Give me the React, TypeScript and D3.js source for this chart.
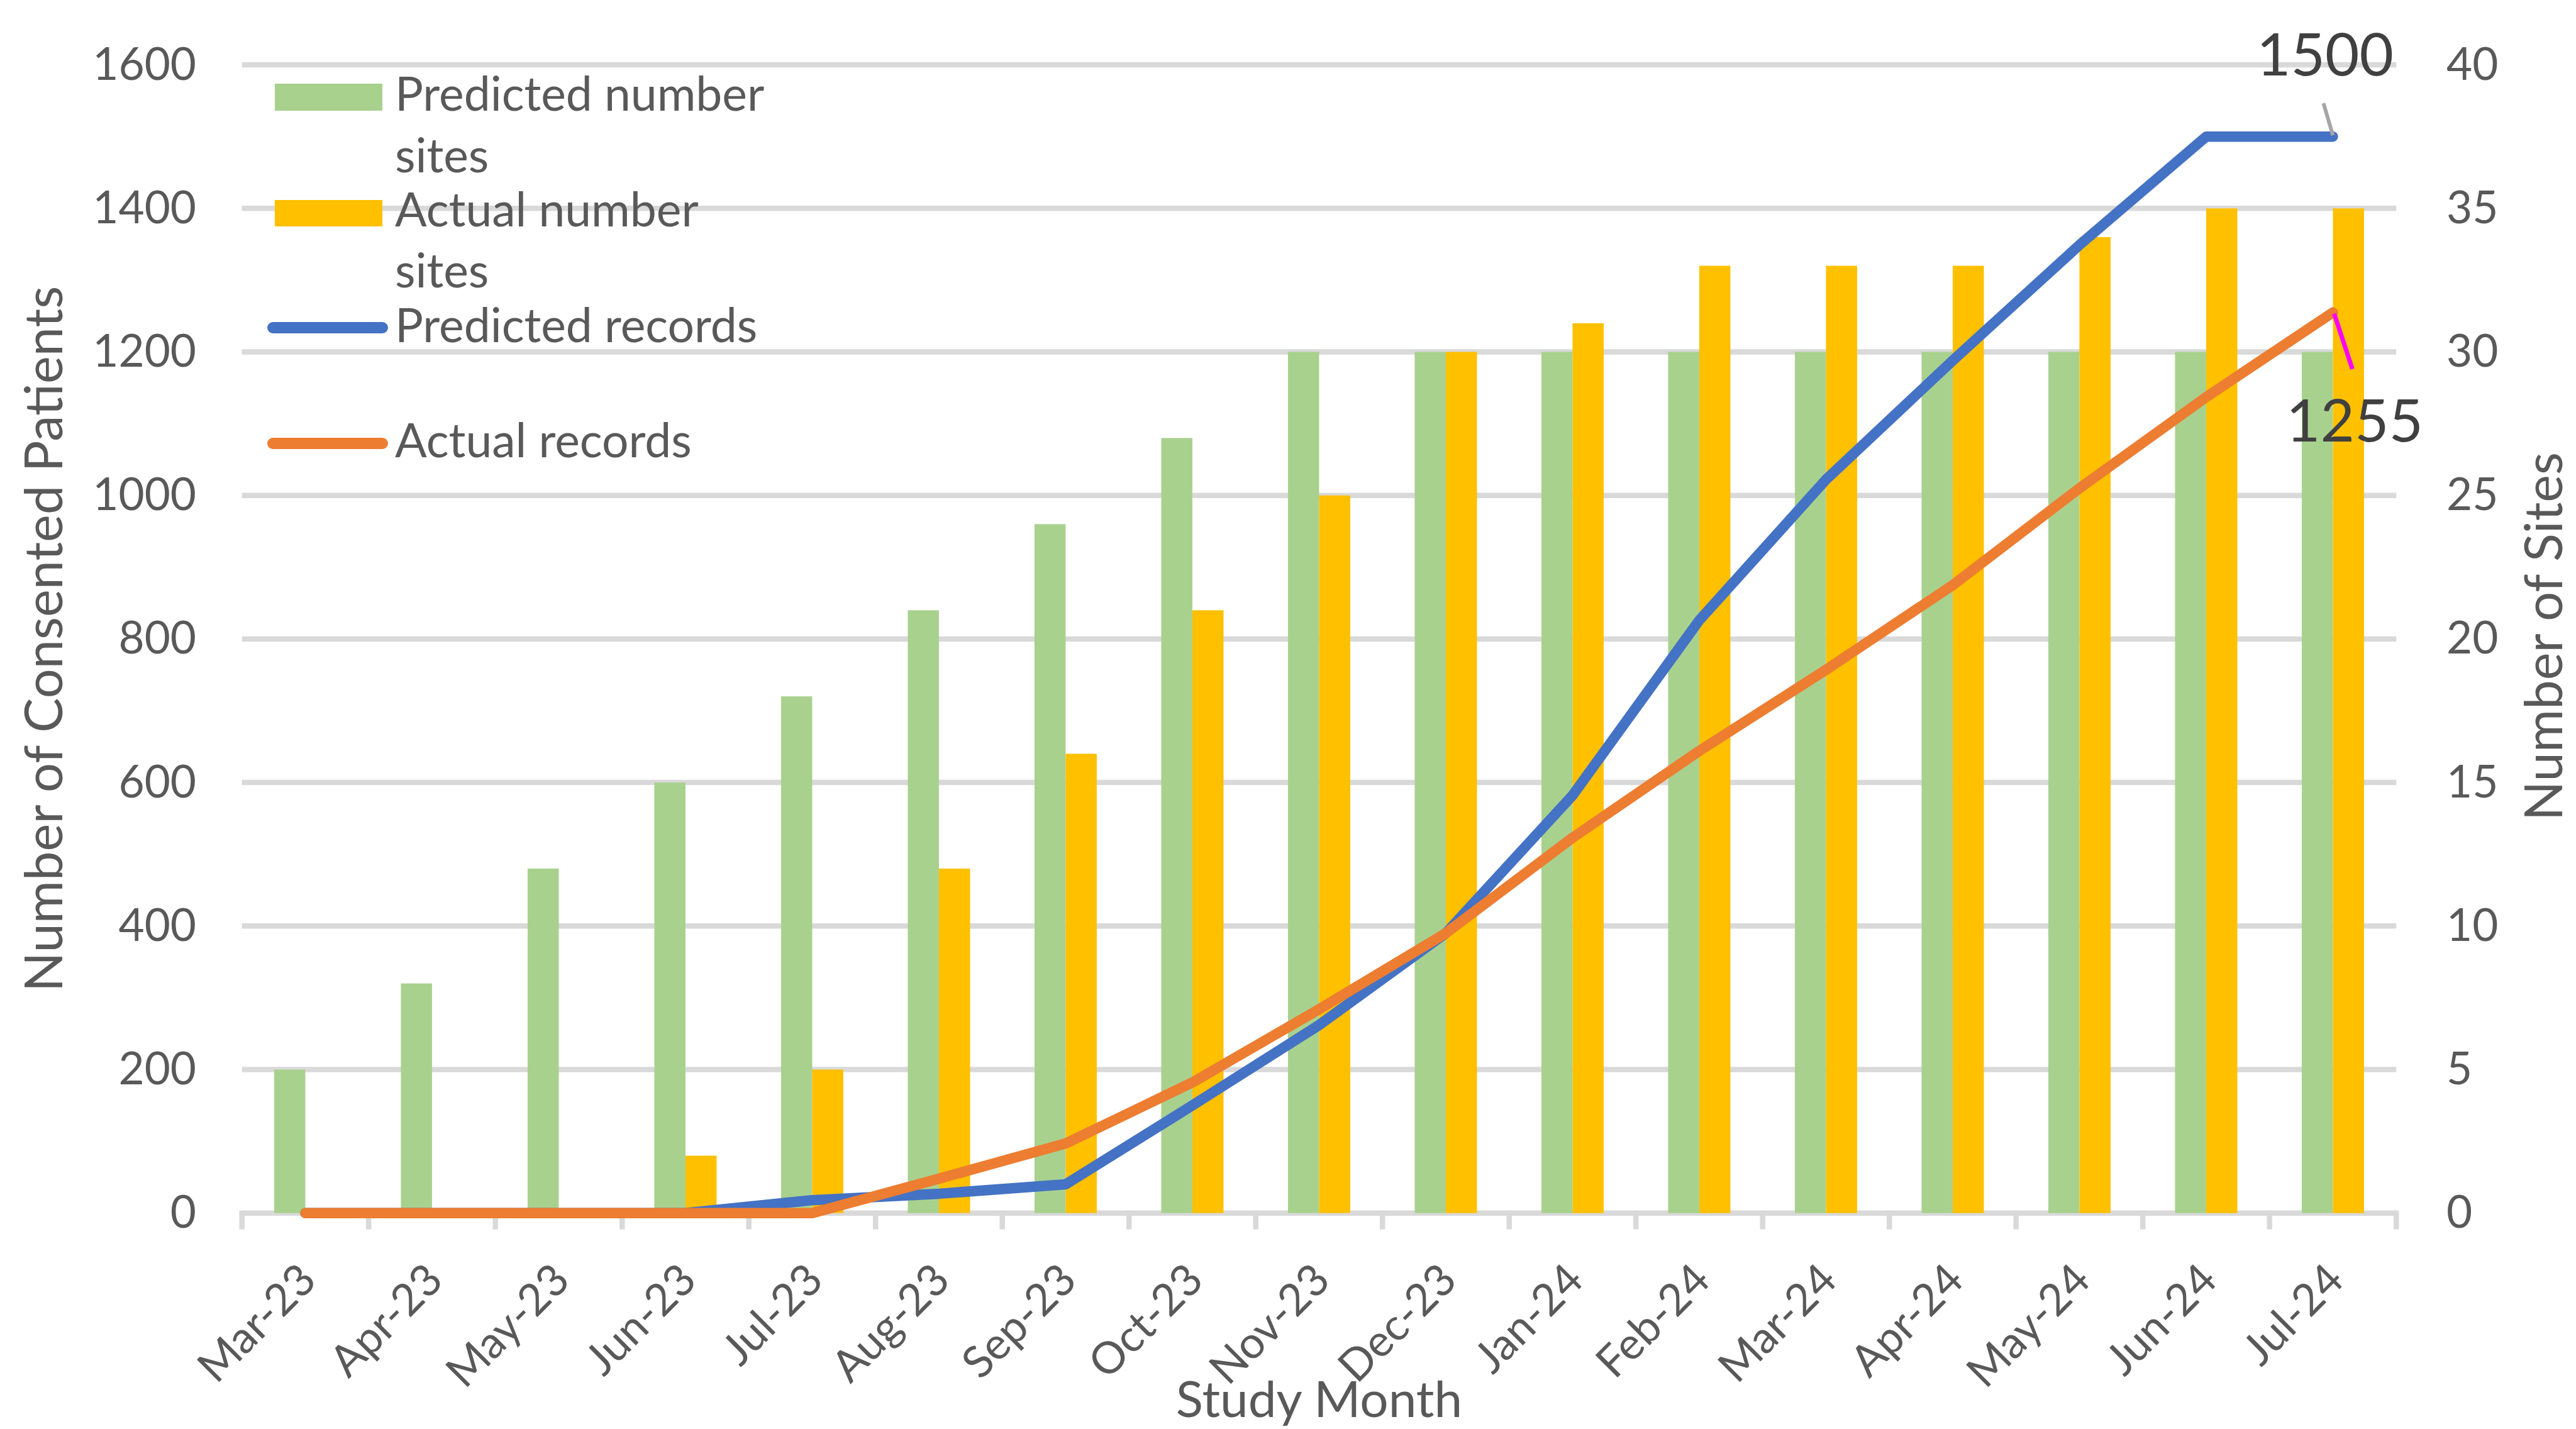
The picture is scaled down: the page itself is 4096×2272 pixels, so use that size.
import React, { useEffect, useRef } from "react";
import * as d3 from "d3";

// study months on the category axis
const months = [
  "Mar-23", "Apr-23", "May-23", "Jun-23", "Jul-23", "Aug-23", "Sep-23", "Oct-23", "Nov-23",
  "Dec-23", "Jan-24", "Feb-24", "Mar-24", "Apr-24", "May-24", "Jun-24", "Jul-24",
];

// number of sites (right axis)
const predictedSites = [5, 8, 12, 15, 18, 21, 24, 27, 30, 30, 30, 30, 30, 30, 30, 30, 30];
const actualSites = [0, 0, 0, 2, 5, 12, 16, 21, 25, 30, 31, 33, 33, 33, 34, 35, 35];

// consented patients (left axis)
const predictedRecords = [0, 0, 0, 0, 18, 27, 40, 150, 262, 390, 582, 826, 1022, 1188, 1349, 1500, 1500];
const actualRecords = [0, 0, 0, 0, 0, 48, 97, 182, 284, 390, 523, 644, 757, 875, 1010, 1137, 1255];

const leftTicks = [0, 200, 400, 600, 800, 1000, 1200, 1400, 1600];
const rightTicks = [0, 5, 10, 15, 20, 25, 30, 35, 40];

const FONT = "Lato, 'Open Sans', sans-serif";
const GREEN = "#A9D18E";
const YELLOW = "#FFC000";
const BLUE = "#4472C4";
const ORANGE = "#ED7D31";
const GRID = "#D9D9D9";
const TEXT = "#595959";

const App = () => {
  const ref = useRef(null);

  useEffect(() => {
    const width = 4096;
    const height = 2272;
    const svg = d3.select(ref.current);
    svg.selectAll("*").remove();
    svg.attr("width", width).attr("height", height);

    const left = 384.7;
    const right = 3810.2;
    const top = 103.1;
    const bottom = 1928.7;

    const x = d3.scaleBand().domain(months).range([left, right]).padding(0);
    const bw = x.bandwidth();
    const xs = d3
      .scaleBand()
      .domain(["pred", "act"])
      .range([bw * (0.5 - 0.2457), bw * (0.5 + 0.2457)]);
    const yL = d3.scaleLinear().domain([0, 1600]).range([bottom, top]);
    const yR = d3.scaleLinear().domain([0, 40]).range([bottom, top]);
    const cx = (m) => x(m) + bw / 2;

    // gridlines
    svg
      .append("g")
      .selectAll("line")
      .data(leftTicks)
      .enter()
      .append("line")
      .attr("x1", left)
      .attr("x2", right)
      .attr("y1", (d) => yL(d))
      .attr("y2", (d) => yL(d))
      .attr("stroke", GRID)
      .attr("stroke-width", 8.5);

    // tick marks between categories
    const edges = d3.range(months.length + 1).map((i) => left + i * bw);
    svg
      .append("g")
      .selectAll("line")
      .data(edges)
      .enter()
      .append("line")
      .attr("x1", (d) => d)
      .attr("x2", (d) => d)
      .attr("y1", bottom - 4)
      .attr("y2", bottom + 25.8)
      .attr("stroke", GRID)
      .attr("stroke-width", 8.5);

    // bars
    const bars = months.map((m, i) => ({ m, pred: predictedSites[i], act: actualSites[i] }));
    const bg = svg.append("g");
    bg.selectAll(".pred")
      .data(bars)
      .enter()
      .append("rect")
      .attr("x", (d) => x(d.m) + xs("pred"))
      .attr("y", (d) => yR(d.pred))
      .attr("width", xs.bandwidth())
      .attr("height", (d) => yR(0) - yR(d.pred))
      .attr("fill", GREEN);
    bg.selectAll(".act")
      .data(bars)
      .enter()
      .append("rect")
      .attr("x", (d) => x(d.m) + xs("act"))
      .attr("y", (d) => yR(d.act))
      .attr("width", xs.bandwidth())
      .attr("height", (d) => yR(0) - yR(d.act))
      .attr("fill", YELLOW);

    // lines
    const line = d3
      .line()
      .x((d) => cx(d.m))
      .y((d) => yL(d.v));
    const series = [
      { values: predictedRecords, color: BLUE },
      { values: actualRecords, color: ORANGE },
    ];
    series.forEach((s) => {
      svg
        .append("path")
        .datum(months.map((m, i) => ({ m, v: s.values[i] })))
        .attr("d", line)
        .attr("fill", "none")
        .attr("stroke", s.color)
        .attr("stroke-width", 16.5)
        .attr("stroke-linejoin", "round")
        .attr("stroke-linecap", "round");
    });

    // left axis labels
    svg
      .append("g")
      .selectAll("text")
      .data(leftTicks)
      .enter()
      .append("text")
      .attr("x", 312)
      .attr("y", (d) => yL(d) - 4)
      .attr("dominant-baseline", "central")
      .attr("text-anchor", "end")
      .attr("font-family", FONT)
      .attr("font-size", 71)
      .attr("fill", TEXT)
      .text((d) => d);

    // right axis labels
    svg
      .append("g")
      .selectAll("text")
      .data(rightTicks)
      .enter()
      .append("text")
      .attr("x", 3890)
      .attr("y", (d) => yR(d) - 4)
      .attr("dominant-baseline", "central")
      .attr("text-anchor", "start")
      .attr("font-family", FONT)
      .attr("font-size", 71)
      .attr("fill", TEXT)
      .text((d) => d);

    // category labels
    svg
      .append("g")
      .selectAll("text")
      .data(months)
      .enter()
      .append("text")
      .attr("transform", (d) => `translate(${cx(d) + 2},2020) rotate(-45)`)
      .attr("dominant-baseline", "central")
      .attr("text-anchor", "end")
      .attr("font-family", FONT)
      .attr("font-size", 70)
      .attr("fill", TEXT)
      .text((d) => d);

    // axis titles
    const title = (t, tx, ty, rot, fs) =>
      svg
        .append("text")
        .attr("transform", `translate(${tx},${ty}) rotate(${rot})`)
        .attr("text-anchor", "middle")
        .attr("font-family", FONT)
        .attr("font-size", fs)
        .attr("fill", TEXT)
        .text(t);
    title("Number of Consented Patients", 99, (top + bottom) / 2, -90, 83);
    title("Number of Sites", 4074, 1012, -90, 83);
    title("Study Month", (left + right) / 2, 2253, 0, 80);

    // legend
    const lg = svg.append("g").attr("font-family", FONT).attr("font-size", 75).attr("fill", TEXT);
    lg.append("rect").attr("x", 437).attr("y", 133).attr("width", 171).attr("height", 43).attr("fill", GREEN);
    lg.append("rect").attr("x", 437).attr("y", 318).attr("width", 171).attr("height", 42).attr("fill", YELLOW);
    lg.append("line").attr("x1", 434).attr("x2", 608).attr("y1", 521).attr("y2", 521)
      .attr("stroke", BLUE).attr("stroke-width", 18).attr("stroke-linecap", "round");
    lg.append("line").attr("x1", 434).attr("x2", 608).attr("y1", 705).attr("y2", 705)
      .attr("stroke", ORANGE).attr("stroke-width", 18).attr("stroke-linecap", "round");
    const legendText = [
      ["Predicted number", 176],
      ["sites", 274],
      ["Actual number", 360],
      ["sites", 457],
      ["Predicted records", 544],
      ["Actual records", 727],
    ];
    lg.selectAll("text")
      .data(legendText)
      .enter()
      .append("text")
      .attr("x", 628)
      .attr("y", (d) => d[1])
      .text((d) => d[0]);

    // data labels on the last point
    const last = months[months.length - 1];
    const px = cx(last);
    const pyPred = yL(predictedRecords[predictedRecords.length - 1]);
    const pyAct = yL(actualRecords[actualRecords.length - 1]);

    svg.append("line")
      .attr("x1", px - 15).attr("y1", pyPred - 53)
      .attr("x2", px).attr("y2", pyPred - 2)
      .attr("stroke", "#A6A6A6").attr("stroke-width", 6);
    svg.append("text")
      .attr("x", 3697).attr("y", 120)
      .attr("text-anchor", "middle")
      .attr("font-family", FONT).attr("font-size", 94).attr("fill", "#404040")
      .text(predictedRecords[predictedRecords.length - 1]);

    svg.append("line")
      .attr("x1", px + 2).attr("y1", pyAct + 2)
      .attr("x2", px + 31).attr("y2", pyAct + 90)
      .attr("stroke", "#FF00FF").attr("stroke-width", 7);
    svg.append("text")
      .attr("x", 3744).attr("y", 702)
      .attr("text-anchor", "middle")
      .attr("font-family", FONT).attr("font-size", 94).attr("fill", "#404040")
      .text(actualRecords[actualRecords.length - 1]);
  }, []);

  return (
    <svg
      ref={ref}
      style={{ position: "absolute", left: 0, top: 0, display: "block", background: "#fff" }}
    ></svg>
  );
};

export default App;
